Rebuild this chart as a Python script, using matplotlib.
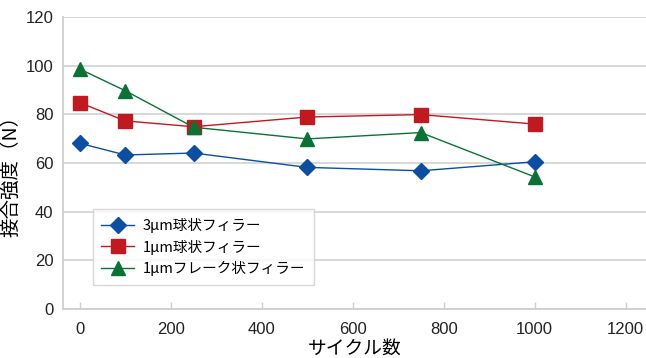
import matplotlib.pyplot as plt

plt.rcParams['font.family'] = ['Noto Sans CJK JP', 'DejaVu Sans']

cycles = [0, 100, 250, 500, 750, 1000]
sphere_3um = [68.1, 63.3, 64.1, 58.2, 56.8, 60.5]
sphere_1um = [84.8, 77.3, 74.9, 78.9, 79.9, 76.0]
flake_1um = [98.6, 89.7, 74.7, 69.9, 72.5, 54.3]

labels = ['3\u03bcm球状フィラー', '1\u03bcm球状フィラー', '1\u03bcmフレーク状フィラー']
colors = ['#0b4ea2', '#c0191f', '#0a7236']
markers = ['D', 's', '^']
sizes = [8, 10, 10]

fig = plt.figure(figsize=(6.46, 3.58), dpi=100)
ax = fig.add_axes([63 / 646, 1 - 309 / 358, 1 - 63 / 646, (309 - 17) / 358])

for ys, lab, c, m, s in zip([sphere_3um, sphere_1um, flake_1um], labels, colors, markers, sizes):
    ax.plot(cycles, ys, color=c, lw=1.0, marker=m, ms=s, mec=c, label=lab)

ax.set_xlim(-37, 1245)
ax.set_ylim(0, 120)
ax.set_xticks(range(0, 1201, 200))
ax.set_yticks(range(0, 121, 20))
ax.yaxis.grid(True, color='#d4d4d4', lw=1.3)
ax.set_axisbelow(True)

for side in ['top', 'right']:
    ax.spines[side].set_visible(False)
for side in ['left', 'bottom']:
    ax.spines[side].set_color('#cfcfcf')
    ax.spines[side].set_linewidth(1.3)

ax.tick_params(axis='x', direction='in', length=5, color='#cfcfcf', width=1, pad=9)
ax.tick_params(axis='y', length=0, pad=7)
for t in ax.get_xticklabels() + ax.get_yticklabels():
    t.set_family(['Liberation Sans Narrow', 'Liberation Sans'])
    t.set_fontsize(12)
    t.set_color('#222222')

ax.set_xlabel('サイクル数', fontsize=13.5, labelpad=1)
ax.set_ylabel('接合強度（N）', fontsize=14, labelpad=8)
ax.yaxis.set_label_coords(-0.072, 0.47)

leg = ax.legend(loc='upper left', bbox_to_anchor=(0.051, 0.342), borderaxespad=0,
                fontsize=10.5, frameon=True, fancybox=False, edgecolor='#cfcfcf',
                borderpad=0.6, handlelength=2.2, handletextpad=0.6, labelspacing=0.45)
leg.get_frame().set_linewidth(1.0)

fig.savefig('out.png', dpi=100)
